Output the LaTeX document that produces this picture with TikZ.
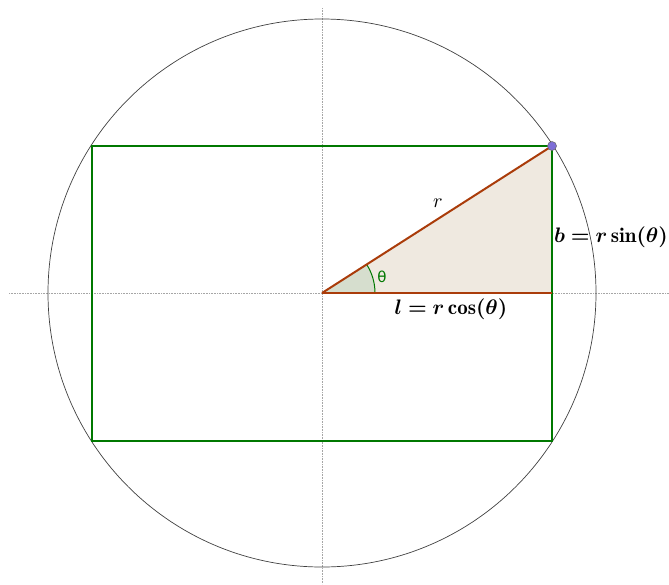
\documentclass[tikz,border=0pt]{standalone}
\usepackage{amsmath,bm}
\usepackage{graphicx}
\usepackage{fontspec}
\newfontfamily\dejavu{DejaVu Sans}
\usetikzlibrary{calc}
\definecolor{rectgreen}{RGB}{0,120,0}
\definecolor{seg}{RGB}{170,60,10}
\definecolor{trifill}{RGB}{239,233,224}
\definecolor{angfill}{RGB}{214,222,206}
\definecolor{ptfill}{RGB}{125,110,215}
\tikzset{
  axis/.style={gray!70, densely dotted, line width=0.6pt},
  rectline/.style={rectgreen, line width=1.1pt},
  segline/.style={seg, line width=2pt},
  lbl/.style={inner sep=1pt},
}
\begin{document}
\begin{tikzpicture}[x=1pt,y=-1pt]
\useasboundingbox (0,0) rectangle (669,584);
% axes
\coordinate (axL) at (9,293);
\coordinate (axR) at (669,293);
\coordinate (axT) at (322,8);
\coordinate (axB) at (322,584);
\draw[axis] (axL) -- (axR);
\draw[axis] (axT) -- (axB);
% circle
\coordinate (O) at (322,293);
\draw[black!75, line width=0.7pt] (O) circle[radius=274];
% rectangle
\coordinate (P) at (552,146);
\coordinate (Q) at (552,293);
\coordinate (TL) at (92,146);
\coordinate (BL) at (92,441);
\coordinate (BR) at (552,441);
% triangle fill
\fill[trifill] (O) -- (P) -- (Q) -- cycle;
% angle sector
\fill[angfill] (O) -- ($(O)+(53,0)$) arc[start angle=0, end angle=-32.6, radius=53] -- cycle;
\draw[rectgreen, line width=1pt] ($(O)+(53,0)$) arc[start angle=0, end angle=-32.6, radius=53];
\draw[rectline] (TL) -- (P) -- (BR) -- (BL) -- cycle;
% segments
\draw[segline] (O) -- (P);
\draw[segline] (O) -- (Q);
% point
\node[circle, fill=ptfill, draw=black!60, line width=0.5pt, inner sep=0pt, minimum size=9pt] (pt) at (P) {};
% labels
\node[lbl] (lr) at (438,203) {\scalebox{2}{$r$}};
\node[inner sep=1pt, text=rectgreen, font=\fontsize{15}{17}\selectfont\dejavu] (lth) at (382,277) {θ};
\node[lbl] (ll) at (451,309) {\scalebox{2.1}{$\bm{l=r\cos(\theta)}$}};
\node[lbl] (lb) at (611,237) {\scalebox{2.1}{$\bm{b=r\sin(\theta)}$}};
\end{tikzpicture}
\end{document}
